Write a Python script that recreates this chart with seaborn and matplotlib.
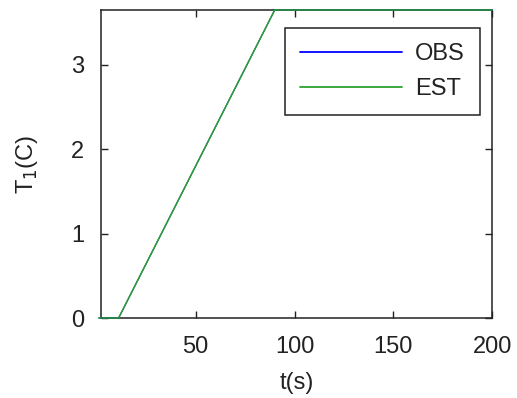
import pandas as pd
import matplotlib
matplotlib.use("Agg")
import matplotlib.pyplot as plt
import seaborn as sns

## Data
t = [1, 11, 90, 200]
obs = [0.0, 0.0, 3.65, 3.65]
est = [0.0, 0.0, 3.65, 3.65]

df = pd.DataFrame({'t': t + t,
                   'T1': obs + est,
                   'series': ['OBS'] * len(t) + ['EST'] * len(t)})

sns.set_style('ticks')
plt.rcParams['font.family'] = ['Liberation Sans', 'DejaVu Sans']
plt.rcParams['text.color'] = '#222222'

fig = plt.figure(figsize=(5.17, 3.98), dpi=100)
ax = fig.add_axes([0.195, 0.201, 0.757, 0.774])

sns.lineplot(data=df, x='t', y='T1', hue='series', palette={'OBS': '#0000ff', 'EST': '#2ca02c'},
             linewidth=1.1, ax=ax)
# lines sit on the spines at 0 and at the top, so let them show
for ln, z in zip(ax.lines, [3, 4]):
    ln.set_clip_on(False)
    ln.set_zorder(z)
ax.lines[0].set_linewidth(0.8)

ax.set_xlim(2, 200)
ax.set_ylim(0, 3.65)
ax.set_xticks([50, 100, 150, 200])
ax.set_yticks([0, 1, 2, 3])
ax.tick_params(direction='in', top=True, right=True, labelsize=17, length=5, width=1,
               colors='#222222')
ax.tick_params(axis='x', pad=13)
ax.tick_params(axis='y', pad=12)
for s in ax.spines.values():
    s.set_color('#222222')
    s.set_linewidth(1.1)
    s.set_zorder(2)

ax.set_xlabel('t(s)', fontsize=17, labelpad=10, color='#222222')
ax.set_ylabel('T$_1$(C)', fontsize=17, labelpad=22, color='#222222')

leg = ax.legend(loc='upper right', bbox_to_anchor=(0.969, 0.943), borderaxespad=0,
                fontsize=17, handlelength=4.3, frameon=True, fancybox=False,
                framealpha=1, edgecolor='#222222', borderpad=0.65, labelspacing=0.55,
                handletextpad=0.55)
leg.get_frame().set_linewidth(1.1)
for h in leg.get_lines():
    h.set_linewidth(1.3)

fig.savefig('out.png', dpi=100)
